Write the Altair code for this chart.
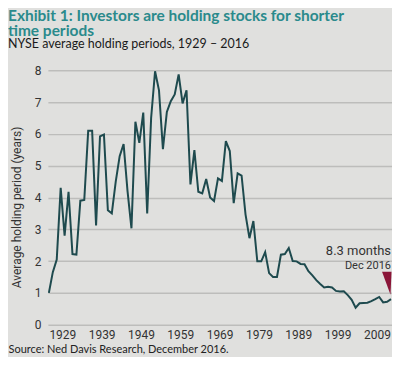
import altair as alt
import pandas as pd

years = list(range(1929, 2017))
holding = [
    1.0, 1.65, 2.05, 4.3, 2.8, 4.18, 2.22, 2.2, 3.9, 3.92,      # 1929-1938
    6.1, 6.1, 3.12, 5.92, 5.98, 3.6, 3.5, 4.5, 5.3, 5.68,      # 1939-1948
    4.2, 3.03, 6.38, 5.72, 6.67, 3.5, 6.5, 7.97, 7.37, 5.52,   # 1949-1958
    6.69, 7.03, 7.24, 7.87, 6.96, 7.37, 4.41, 5.49, 4.18, 4.13,  # 1959-1968
    4.58, 4.0, 3.89, 4.6, 4.52, 5.77, 5.46, 3.82, 4.76, 4.69,  # 1969-1978
    3.47, 2.72, 3.26, 1.99, 1.99, 2.28, 1.62, 1.5, 1.5, 2.2,   # 1979-1988
    2.22, 2.41, 2.0, 1.99, 1.91, 1.9, 1.68, 1.55, 1.4, 1.28,   # 1989-1998
    1.17, 1.19, 1.17, 1.06, 1.04, 1.05, 0.93, 0.78, 0.53, 0.67,  # 1999-2008
    0.68, 0.69, 0.74, 0.8, 0.87, 0.7, 0.72, 0.8,               # 2009-2016
]
x_ticks = [1929, 1939, 1949, 1959, 1969, 1979, 1989, 1999, 2009]
y_ticks = [0, 1, 2, 3, 4, 5, 6, 7, 8]

ann_year = [2016]
ann_value = [0.8]
ann_line1 = ["8.3 months"]
ann_line2 = ["Dec 2016"]

df = pd.DataFrame({"year": years, "value": holding})
ann = pd.DataFrame({"year": ann_year, "value": ann_value,
                    "l1": ann_line1, "l2": ann_line2})

COND = "Roboto"

x_enc = alt.X("year:Q",
              scale=alt.Scale(domain=[1928.75, 2016.25], nice=False, zero=False),
              axis=alt.Axis(values=x_ticks, format="d", labelAlign="left",
                            labelPadding=5, ticks=False, domain=False, grid=False,
                            labelOverlap=False,
                            labelFont=COND, labelFontSize=12, labelColor="#333333",
                            title="Source: Ned Davis Research, December 2016.",
                            titleFont="Lato", titleFontSize=11, titleFontWeight="normal",
                            titleColor="#222222", titleAlign="left", titleAnchor="start",
                            titleX=-40, titleY=28, titleBaseline="alphabetic"))
y_enc = alt.Y("value:Q",
              scale=alt.Scale(domain=[0, 8], nice=False),
              axis=alt.Axis(values=y_ticks, ticks=False, domain=False, grid=True,
                            gridColor="#bdbdbb", gridWidth=1.5, labelPadding=7,
                            labelOverlap=False,
                            labelFont=COND, labelFontSize=12, labelColor="#333333",
                            title="Average holding period (years)",
                            titleFont=COND, titleFontSize=12, titleFontWeight="normal",
                            titleColor="#333333", titleX=-31, titleY=137,
                            titleAngle=270, titleAlign="center", titleBaseline="middle"))

line = alt.Chart(df).mark_line(color="#1e4a4e", strokeWidth=2).encode(x=x_enc, y=y_enc)

tri = alt.Chart(ann).mark_point(
    shape="M-0.9,-2.75 L0.05,-2.75 L-0.05,-0.45 Z",
    size=400, filled=True, color="#8a1538", opacity=1, strokeWidth=0,
).encode(x=x_enc, y=y_enc)

t1 = alt.Chart(ann).mark_text(align="right", baseline="alphabetic", dx=0, dy=-44,
                              font=COND, fontSize=13, color="#333333").encode(
    x=x_enc, y=y_enc, text="l1:N")
t2 = alt.Chart(ann).mark_text(align="right", baseline="alphabetic", dx=0, dy=-30,
                              font=COND, fontSize=11, color="#333333").encode(
    x=x_enc, y=y_enc, text="l2:N")

chart = alt.layer(line, tri, t1, t2).properties(
    width=345, height=255,
    autosize=alt.AutoSizeParams(type="none"),
    padding={"left": 40, "top": 62, "right": 0, "bottom": 32},
    background="#e0e0de",
    title=alt.TitleParams(
        text=["Exhibit 1: Investors are holding stocks for shorter", "time periods"],
        subtitle="NYSE average holding periods, 1929 \u2013 2016",
        anchor="start", frame="group", dx=-40, offset=14,
        font="Lato", fontSize=15.5, fontWeight="bold", color="#2a8a8c", lineHeight=15.5,
        subtitleFont="Lato", subtitleFontSize=12.5, subtitleColor="#1a1a1a",
        subtitlePadding=-2,
    ),
).configure_view(stroke=None)

chart.save("out.html", embed_options={"renderer": "svg", "actions": False})
